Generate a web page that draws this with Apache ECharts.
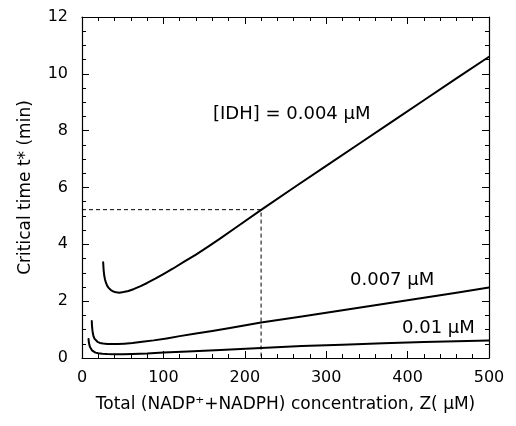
<!DOCTYPE html>
<html><head><meta charset="utf-8">
<script src="https://cdn.jsdelivr.net/npm/echarts@6/dist/echarts.min.js"></script>
<style>html,body{margin:0;padding:0;background:#fff}#c{width:516px;height:426px}</style>
</head><body><div id="c"></div>
<script>
// Data
var xTicks = [0, 100, 200, 300, 400, 500];
var yTicks = [0, 2, 4, 6, 8, 10, 12];
var idh004 = [[26,3.37],[26.5,3.12],[27.2,2.92],[28.2,2.77],[29.5,2.64],[31,2.54],[33,2.46],[35.5,2.39],[38.5,2.34],[42,2.31],[46,2.30],[51,2.32],[57,2.36],[64,2.43],[72,2.53],[80,2.64],[90,2.79],[100,2.95],[112,3.15],[125,3.38],[140,3.64],[155,3.92],[170,4.21],[190,4.61],[221,5.23],[260,5.99],[300,6.76],[340,7.53],[380,8.30],[420,9.07],[460,9.84],[500,10.6]];
var idh007 = [[12,1.3],[12.3,1.12],[12.8,0.98],[13.4,0.86],[14.2,0.76],[15.3,0.68],[16.8,0.62],[19,0.57],[22,0.53],[26,0.51],[31,0.495],[37,0.49],[44,0.49],[52,0.505],[62,0.53],[74,0.57],[88,0.62],[104,0.69],[120,0.77],[140,0.86],[160,0.95],[180,1.05],[220,1.25],[270,1.46],[320,1.68],[370,1.90],[420,2.12],[460,2.30],[500,2.48]];
var idh010 = [[8,0.67],[8.4,0.56],[9,0.47],[9.8,0.39],[10.8,0.32],[12.2,0.27],[14,0.225],[16.5,0.19],[20,0.165],[25,0.15],[31,0.14],[40,0.135],[50,0.135],[62,0.145],[80,0.16],[100,0.19],[130,0.23],[170,0.28],[220,0.35],[270,0.42],[320,0.47],[370,0.52],[420,0.56],[460,0.59],[500,0.62]];
var guide = [[0,5.22],[220,5.22],[220,0]];
var labels = ['[IDH] = 0.004 \u00b5M', '0.007 \u00b5M', '0.01 \u00b5M'];

var FONT = 'DejaVu Sans';
var chart = echarts.init(document.getElementById('c'));
function curve(d){
  return {type:'line', data:d, showSymbol:false, smooth:false,
    lineStyle:{color:'#000', width:2, join:'round', cap:'round'}, silent:true, z:3};
}
function axis(extra, split){
  return Object.assign({
    type:'value',
    axisLine:{show:true, onZero:false, lineStyle:{color:'#000', width:1.2}},
    axisTick:{show:true, inside:true, length:7, lineStyle:{color:'#000', width:1}},
    minorTick:{show:true, splitNumber:split, length:4, lineStyle:{color:'#000', width:1}},
    splitLine:{show:false}, minorSplitLine:{show:false}
  }, extra);
}
chart.setOption({
  animation:false,
  backgroundColor:'#fff',
  grid:{left:82, right:27, top:17, bottom:68},
  xAxis:[axis({
    min:xTicks[0], max:xTicks[xTicks.length-1], interval:100,
    axisLabel:{color:'#000', fontFamily:FONT, fontSize:16, margin:12},
    name:'Total (NADP\u207a+NADPH) concentration, Z( \u00b5M)',
    nameLocation:'middle', nameGap:38,
    nameTextStyle:{color:'#000', fontFamily:FONT, fontSize:17}
  }, 5), axis({
    position:'top', min:0, max:500, interval:100, axisLabel:{show:false}
  }, 5)],
  yAxis:[axis({
    min:yTicks[0], max:yTicks[yTicks.length-1], interval:2,
    axisLabel:{color:'#000', fontFamily:FONT, fontSize:16, margin:14},
    name:'Critical time t* (min)', nameLocation:'middle', nameGap:48,
    nameTextStyle:{color:'#000', fontFamily:FONT, fontSize:17}
  }, 4), axis({
    position:'right', min:0, max:12, interval:2, axisLabel:{show:false}
  }, 4)],
  series:[
    curve(idh004), curve(idh007), curve(idh010),
    {type:'line', data:guide, showSymbol:false, silent:true, z:2,
     lineStyle:{color:'#000', width:1, type:[4,3]}}
  ],
  graphic:[
    {type:'text', left:213, top:105, style:{text:labels[0], font:'18px "DejaVu Sans"', fill:'#000'}},
    {type:'text', left:350, top:271, style:{text:labels[1], font:'18px "DejaVu Sans"', fill:'#000'}},
    {type:'text', left:402, top:319, style:{text:labels[2], font:'18px "DejaVu Sans"', fill:'#000'}}
  ]
});
</script></body></html>
